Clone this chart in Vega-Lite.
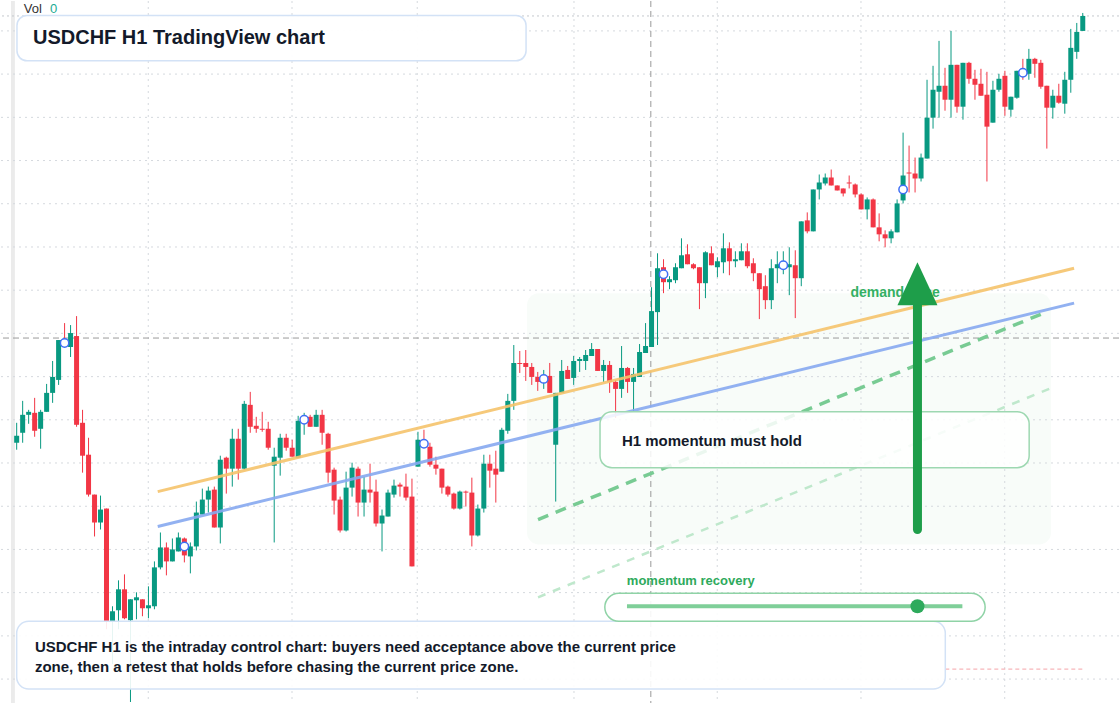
{
"$schema":"https://vega.github.io/schema/vega-lite/v6.json",
"width":1120,"height":704,"padding":0,
"autosize":{"type":"fit","contains":"padding"},
"background":"#ffffff",
"config":{"view":{"stroke":null},"axis":{"disable":true}},
"datasets":{
"candles":[
{"t":0,"o":0.7557,"h":0.7577,"l":0.755,"c":0.7564},
{"t":1,"o":0.7567,"h":0.7599,"l":0.7557,"c":0.7585},
{"t":2,"o":0.7585,"h":0.759,"l":0.7576,"c":0.7588},
{"t":3,"o":0.7587,"h":0.7602,"l":0.7563,"c":0.7569},
{"t":4,"o":0.7571,"h":0.759,"l":0.7551,"c":0.7588},
{"t":5,"o":0.7588,"h":0.7616,"l":0.7588,"c":0.7607},
{"t":6,"o":0.7607,"h":0.7639,"l":0.7597,"c":0.7623},
{"t":7,"o":0.762,"h":0.766,"l":0.7615,"c":0.766},
{"t":8,"o":0.766,"h":0.7677,"l":0.7657,"c":0.7659},
{"t":9,"o":0.7653,"h":0.7675,"l":0.7643,"c":0.7667},
{"t":10,"o":0.7664,"h":0.7684,"l":0.7573,"c":0.7575},
{"t":11,"o":0.7577,"h":0.759,"l":0.7527,"c":0.7544},
{"t":12,"o":0.7545,"h":0.7562,"l":0.7503,"c":0.7505},
{"t":13,"o":0.7505,"h":0.7505,"l":0.7463,"c":0.7477},
{"t":14,"o":0.7477,"h":0.7504,"l":0.747,"c":0.749},
{"t":15,"o":0.7491,"h":0.7491,"l":0.737,"c":0.7378},
{"t":16,"o":0.7378,"h":0.7393,"l":0.7335,"c":0.7388},
{"t":17,"o":0.7389,"h":0.7419,"l":0.737,"c":0.741},
{"t":18,"o":0.741,"h":0.7425,"l":0.738,"c":0.7381},
{"t":19,"o":0.7379,"h":0.74,"l":0.7297,"c":0.74},
{"t":20,"o":0.7399,"h":0.7407,"l":0.738,"c":0.7402},
{"t":21,"o":0.74,"h":0.74,"l":0.7383,"c":0.7391},
{"t":22,"o":0.7391,"h":0.7413,"l":0.7381,"c":0.7394},
{"t":23,"o":0.7393,"h":0.7438,"l":0.739,"c":0.7432},
{"t":24,"o":0.7432,"h":0.7467,"l":0.743,"c":0.7452},
{"t":25,"o":0.7452,"h":0.7457,"l":0.7424,"c":0.7438},
{"t":26,"o":0.7438,"h":0.7461,"l":0.7438,"c":0.745},
{"t":27,"o":0.7448,"h":0.7467,"l":0.7448,"c":0.7462},
{"t":28,"o":0.7461,"h":0.7462,"l":0.7437,"c":0.7444},
{"t":29,"o":0.7443,"h":0.7457,"l":0.7426,"c":0.7453},
{"t":30,"o":0.7453,"h":0.7498,"l":0.7449,"c":0.7487},
{"t":31,"o":0.7485,"h":0.7511,"l":0.7485,"c":0.75},
{"t":32,"o":0.75,"h":0.7513,"l":0.7487,"c":0.7509},
{"t":33,"o":0.751,"h":0.7513,"l":0.7472,"c":0.7472},
{"t":34,"o":0.7472,"h":0.7544,"l":0.7456,"c":0.754},
{"t":35,"o":0.7542,"h":0.7543,"l":0.7506,"c":0.7531},
{"t":36,"o":0.7531,"h":0.7571,"l":0.7513,"c":0.7561},
{"t":37,"o":0.7561,"h":0.7571,"l":0.752,"c":0.7531},
{"t":38,"o":0.7531,"h":0.7599,"l":0.753,"c":0.7596},
{"t":39,"o":0.7595,"h":0.7608,"l":0.7567,"c":0.7573},
{"t":40,"o":0.7574,"h":0.7583,"l":0.7567,"c":0.7571},
{"t":41,"o":0.7571,"h":0.7588,"l":0.7568,"c":0.757},
{"t":42,"o":0.7571,"h":0.7578,"l":0.755,"c":0.7552},
{"t":43,"o":0.7534,"h":0.7552,"l":0.7457,"c":0.7543},
{"t":44,"o":0.7542,"h":0.7566,"l":0.7524,"c":0.7562},
{"t":45,"o":0.7562,"h":0.7566,"l":0.7549,"c":0.7552},
{"t":46,"o":0.7552,"h":0.756,"l":0.7543,"c":0.7543},
{"t":47,"o":0.7542,"h":0.7584,"l":0.7542,"c":0.7579},
{"t":48,"o":0.7579,"h":0.7587,"l":0.7565,"c":0.758},
{"t":49,"o":0.7583,"h":0.7585,"l":0.7573,"c":0.7573},
{"t":50,"o":0.7573,"h":0.759,"l":0.7573,"c":0.7585},
{"t":51,"o":0.7585,"h":0.759,"l":0.7555,"c":0.7567},
{"t":52,"o":0.7566,"h":0.7567,"l":0.7517,"c":0.7527},
{"t":53,"o":0.753,"h":0.7532,"l":0.7485,"c":0.7499},
{"t":54,"o":0.75,"h":0.7503,"l":0.7467,"c":0.7469},
{"t":55,"o":0.7469,"h":0.7528,"l":0.7468,"c":0.7512},
{"t":56,"o":0.7512,"h":0.7537,"l":0.7503,"c":0.7532},
{"t":57,"o":0.7531,"h":0.7533,"l":0.7483,"c":0.7497},
{"t":58,"o":0.7497,"h":0.7523,"l":0.7483,"c":0.751},
{"t":59,"o":0.751,"h":0.7536,"l":0.7497,"c":0.7507},
{"t":60,"o":0.7508,"h":0.752,"l":0.7473,"c":0.7476},
{"t":61,"o":0.7476,"h":0.749,"l":0.7448,"c":0.7484},
{"t":62,"o":0.7483,"h":0.751,"l":0.7483,"c":0.7507},
{"t":63,"o":0.7505,"h":0.752,"l":0.7502,"c":0.7514},
{"t":64,"o":0.7515,"h":0.7517,"l":0.7503,"c":0.7513},
{"t":65,"o":0.7513,"h":0.7526,"l":0.7499,"c":0.7502},
{"t":66,"o":0.7503,"h":0.7521,"l":0.7433,"c":0.7433},
{"t":67,"o":0.7533,"h":0.7568,"l":0.7533,"c":0.756},
{"t":68,"o":0.7556,"h":0.757,"l":0.7552,"c":0.7553},
{"t":69,"o":0.7553,"h":0.7557,"l":0.7533,"c":0.7535},
{"t":70,"o":0.7535,"h":0.7543,"l":0.7525,"c":0.7531},
{"t":71,"o":0.7531,"h":0.7531,"l":0.7506,"c":0.7512},
{"t":72,"o":0.7513,"h":0.7514,"l":0.7503,"c":0.7505},
{"t":73,"o":0.7506,"h":0.7507,"l":0.749,"c":0.7491},
{"t":74,"o":0.7491,"h":0.7509,"l":0.749,"c":0.7508},
{"t":75,"o":0.7508,"h":0.7509,"l":0.7493,"c":0.7507},
{"t":76,"o":0.7507,"h":0.7522,"l":0.7453,"c":0.7464},
{"t":77,"o":0.7464,"h":0.7495,"l":0.7463,"c":0.7491},
{"t":78,"o":0.7491,"h":0.7545,"l":0.7487,"c":0.7536},
{"t":79,"o":0.7536,"h":0.7545,"l":0.7512,"c":0.7529},
{"t":80,"o":0.7531,"h":0.7549,"l":0.7497,"c":0.7525},
{"t":81,"o":0.7528,"h":0.7572,"l":0.7528,"c":0.757},
{"t":82,"o":0.7569,"h":0.7606,"l":0.7566,"c":0.7599},
{"t":83,"o":0.7599,"h":0.7655,"l":0.759,"c":0.7637},
{"t":84,"o":0.7637,"h":0.7649,"l":0.7627,"c":0.7636},
{"t":85,"o":0.7637,"h":0.765,"l":0.7619,"c":0.7633},
{"t":86,"o":0.7633,"h":0.7637,"l":0.7615,"c":0.7623},
{"t":87,"o":0.7623,"h":0.7628,"l":0.7609,"c":0.7618},
{"t":88,"o":0.762,"h":0.763,"l":0.7611,"c":0.7622},
{"t":89,"o":0.7624,"h":0.7637,"l":0.7607,"c":0.7607},
{"t":90,"o":0.7555,"h":0.7607,"l":0.7498,"c":0.7607},
{"t":91,"o":0.7607,"h":0.764,"l":0.7607,"c":0.7629},
{"t":92,"o":0.763,"h":0.7634,"l":0.7621,"c":0.7621},
{"t":93,"o":0.7622,"h":0.7644,"l":0.7615,"c":0.7639},
{"t":94,"o":0.7639,"h":0.7643,"l":0.7628,"c":0.7641},
{"t":95,"o":0.7639,"h":0.765,"l":0.763,"c":0.7645},
{"t":96,"o":0.7644,"h":0.7657,"l":0.7644,"c":0.7651},
{"t":97,"o":0.7651,"h":0.7651,"l":0.7629,"c":0.7629},
{"t":98,"o":0.7629,"h":0.764,"l":0.7618,"c":0.7635},
{"t":99,"o":0.7635,"h":0.7639,"l":0.7607,"c":0.7618},
{"t":100,"o":0.7618,"h":0.762,"l":0.7582,"c":0.7611},
{"t":101,"o":0.7611,"h":0.7654,"l":0.7602,"c":0.7632},
{"t":102,"o":0.7632,"h":0.7633,"l":0.7607,"c":0.7618},
{"t":103,"o":0.7618,"h":0.7632,"l":0.7588,"c":0.7626},
{"t":104,"o":0.7623,"h":0.7656,"l":0.7623,"c":0.7648},
{"t":105,"o":0.7647,"h":0.7677,"l":0.7647,"c":0.7654},
{"t":106,"o":0.7653,"h":0.7713,"l":0.7653,"c":0.7689},
{"t":107,"o":0.7688,"h":0.7747,"l":0.7655,"c":0.7732},
{"t":108,"o":0.7733,"h":0.7741,"l":0.7707,"c":0.7718},
{"t":109,"o":0.7718,"h":0.7724,"l":0.7711,"c":0.7721},
{"t":110,"o":0.772,"h":0.7737,"l":0.7717,"c":0.7733},
{"t":111,"o":0.7732,"h":0.7762,"l":0.7732,"c":0.7745},
{"t":112,"o":0.7746,"h":0.7756,"l":0.7736,"c":0.7736},
{"t":113,"o":0.7736,"h":0.7737,"l":0.7731,"c":0.7732},
{"t":114,"o":0.7733,"h":0.7733,"l":0.7691,"c":0.7717},
{"t":115,"o":0.7717,"h":0.7749,"l":0.7702,"c":0.7748},
{"t":116,"o":0.7747,"h":0.7754,"l":0.7735,"c":0.7735},
{"t":117,"o":0.7733,"h":0.7743,"l":0.7723,"c":0.7739},
{"t":118,"o":0.7738,"h":0.7767,"l":0.7727,"c":0.7752},
{"t":119,"o":0.7752,"h":0.7758,"l":0.7725,"c":0.7739},
{"t":120,"o":0.7739,"h":0.7749,"l":0.7733,"c":0.7741},
{"t":121,"o":0.774,"h":0.7757,"l":0.774,"c":0.7749},
{"t":122,"o":0.7749,"h":0.7757,"l":0.7732,"c":0.7734},
{"t":123,"o":0.7737,"h":0.7742,"l":0.7719,"c":0.7727},
{"t":124,"o":0.7727,"h":0.7727,"l":0.7681,"c":0.7711},
{"t":125,"o":0.7714,"h":0.7725,"l":0.7691,"c":0.77},
{"t":126,"o":0.77,"h":0.7741,"l":0.7691,"c":0.7732},
{"t":127,"o":0.7732,"h":0.7749,"l":0.7717,"c":0.7736},
{"t":128,"o":0.7734,"h":0.7749,"l":0.7726,"c":0.7735},
{"t":129,"o":0.7733,"h":0.7753,"l":0.7705,"c":0.7736},
{"t":130,"o":0.7735,"h":0.775,"l":0.7682,"c":0.7722},
{"t":131,"o":0.7722,"h":0.7779,"l":0.7714,"c":0.7779},
{"t":132,"o":0.778,"h":0.7788,"l":0.7767,"c":0.7769},
{"t":133,"o":0.7769,"h":0.7811,"l":0.7769,"c":0.7811},
{"t":134,"o":0.7811,"h":0.7826,"l":0.7801,"c":0.7818},
{"t":135,"o":0.7817,"h":0.7827,"l":0.7815,"c":0.7823},
{"t":136,"o":0.7823,"h":0.7831,"l":0.7815,"c":0.7815},
{"t":137,"o":0.7815,"h":0.7815,"l":0.781,"c":0.781},
{"t":138,"o":0.7812,"h":0.7812,"l":0.7804,"c":0.7807},
{"t":139,"o":0.7818,"h":0.7825,"l":0.7812,"c":0.7817},
{"t":140,"o":0.7816,"h":0.7817,"l":0.7803,"c":0.7806},
{"t":141,"o":0.7806,"h":0.7807,"l":0.7791,"c":0.7791},
{"t":142,"o":0.7791,"h":0.7803,"l":0.7781,"c":0.7801},
{"t":143,"o":0.7801,"h":0.7802,"l":0.7773,"c":0.7773},
{"t":144,"o":0.7773,"h":0.7787,"l":0.7759,"c":0.7766},
{"t":145,"o":0.7766,"h":0.777,"l":0.7753,"c":0.7762},
{"t":146,"o":0.7762,"h":0.7771,"l":0.7757,"c":0.7769},
{"t":147,"o":0.7768,"h":0.7801,"l":0.7768,"c":0.7797},
{"t":148,"o":0.78,"h":0.7868,"l":0.7797,"c":0.7825},
{"t":149,"o":0.7828,"h":0.7855,"l":0.7808,"c":0.7827},
{"t":150,"o":0.7827,"h":0.7843,"l":0.7808,"c":0.7822},
{"t":151,"o":0.7822,"h":0.7847,"l":0.7819,"c":0.7843},
{"t":152,"o":0.7842,"h":0.7921,"l":0.7842,"c":0.7883},
{"t":153,"o":0.7883,"h":0.7935,"l":0.7872,"c":0.7911},
{"t":154,"o":0.7909,"h":0.796,"l":0.7883,"c":0.7915},
{"t":155,"o":0.7915,"h":0.7933,"l":0.789,"c":0.7901},
{"t":156,"o":0.7901,"h":0.797,"l":0.7883,"c":0.7936},
{"t":157,"o":0.7936,"h":0.7936,"l":0.7888,"c":0.7894},
{"t":158,"o":0.7894,"h":0.7938,"l":0.7881,"c":0.7938},
{"t":159,"o":0.7938,"h":0.7939,"l":0.7917,"c":0.7922},
{"t":160,"o":0.7922,"h":0.7931,"l":0.7901,"c":0.7916},
{"t":161,"o":0.7917,"h":0.7932,"l":0.7905,"c":0.7905},
{"t":162,"o":0.7906,"h":0.7929,"l":0.7819,"c":0.7874},
{"t":163,"o":0.7878,"h":0.792,"l":0.7878,"c":0.7911},
{"t":164,"o":0.7911,"h":0.7927,"l":0.7909,"c":0.7922},
{"t":165,"o":0.7925,"h":0.793,"l":0.7885,"c":0.7894},
{"t":166,"o":0.7891,"h":0.7904,"l":0.7884,"c":0.7904},
{"t":167,"o":0.7903,"h":0.793,"l":0.7902,"c":0.793},
{"t":168,"o":0.7929,"h":0.7942,"l":0.7921,"c":0.7927},
{"t":169,"o":0.7927,"h":0.7952,"l":0.7921,"c":0.7942},
{"t":170,"o":0.7942,"h":0.7943,"l":0.7923,"c":0.7937},
{"t":171,"o":0.7938,"h":0.7941,"l":0.7912,"c":0.7914},
{"t":172,"o":0.7915,"h":0.7915,"l":0.7852,"c":0.7893},
{"t":173,"o":0.7893,"h":0.7911,"l":0.7882,"c":0.7905},
{"t":174,"o":0.7905,"h":0.7917,"l":0.7897,"c":0.7898},
{"t":175,"o":0.7897,"h":0.7929,"l":0.7887,"c":0.7921},
{"t":176,"o":0.7921,"h":0.7972,"l":0.7908,"c":0.7953},
{"t":177,"o":0.7949,"h":0.7978,"l":0.7942,"c":0.7969},
{"t":178,"o":0.797,"h":0.7988,"l":0.797,"c":0.7985}
],
"markers":[{"t":8,"p":0.7657},{"t":28,"p":0.7453},{"t":48,"p":0.758},{"t":68,"p":0.7556},{"t":88,"p":0.7621},{"t":108,"p":0.7726},{"t":128,"p":0.7735},{"t":148,"p":0.7811},{"t":168,"p":0.7928}],
"hgrid":[{"p":0.797},{"p":0.79267},{"p":0.78833},{"p":0.784},{"p":0.77967},{"p":0.77533},{"p":0.771},{"p":0.76667},{"p":0.76233},{"p":0.758},{"p":0.75367},{"p":0.74933},{"p":0.745},{"p":0.74067},{"p":0.73633},{"p":0.732}],
"vgrid":[{"t":21.97},{"t":45.97},{"t":66.88},{"t":93.05},{"t":116.97},{"t":140.97},{"t":164.97}],
"boxes":[
{"kind":"strip","x1":-0.95,"x2":-0.3,"y1":0.8,"y2":0.7296},
{"kind":"zone","x1":85.2,"x2":172.7,"y1":0.7707,"y2":0.7455},
{"kind":"title","x1":0.05,"x2":85.05,"y1":0.79855,"y2":0.794},
{"kind":"note","x1":0.0,"x2":155.05,"y1":0.7378,"y2":0.731},
{"kind":"h1","x1":97.4,"x2":169.05,"y1":0.7588,"y2":0.7532},
{"kind":"mom","x1":98.2,"x2":161.7,"y1":0.7406,"y2":0.7378}
],
"lines":[
{"k":"orange","t":23.55,"p":0.7508},{"k":"orange","t":176.55,"p":0.7732},
{"k":"blue","t":23.55,"p":0.7473},{"k":"blue","t":176.55,"p":0.7697},
{"k":"gdash","t":87.05,"p":0.748},{"k":"gdash","t":171.9,"p":0.7688},
{"k":"ldash","t":87.05,"p":0.7402},{"k":"ldash","t":172.4,"p":0.7611},
{"k":"slider","t":101.9,"p":0.7393},{"k":"slider","t":157.9,"p":0.7393},
{"k":"vol","t":155.05,"p":0.733},{"k":"vol","t":178.4,"p":0.733}
],
"labels":[
{"k":"vol","t":1.2,"p":0.7992,"text":"Vol"},
{"k":"vol0","t":5.55,"p":0.7992,"text":"0"},
{"k":"title","t":2.72,"p":0.7963,"text":"USDCHF H1 TradingView chart"},
{"k":"note","t":3.05,"p":0.7352,"text":"USDCHF H1 is the intraday control chart: buyers need acceptance above the current price"},
{"k":"note","t":3.05,"p":0.7332,"text":"zone, then a retest that holds before chasing the current price zone."},
{"k":"h1","t":101.05,"p":0.7559,"text":"H1 momentum must hold"},
{"k":"green","t":101.88,"p":0.7418,"text":"momentum recovery"},
{"k":"zone","t":139.2,"p":0.7707,"text":"demand zone"}
]
},
"encoding":{
"x":{"type":"quantitative","scale":{"domain":[-2.617,184.05],"nice":false,"zero":false}},
"y":{"type":"quantitative","scale":{"domain":[0.7296,0.8],"nice":false,"zero":false}}
},
"layer":[
{"data":{"name":"boxes"},"transform":[{"filter":"datum.kind==='strip'"}],"mark":{"type":"rect","fill":"#ebebeb"},
 "encoding":{"x":{"field":"x1","type":"quantitative"},"x2":{"field":"x2"},"y":{"field":"y1","type":"quantitative"},"y2":{"field":"y2"}}},
{"data":{"name":"boxes"},"transform":[{"filter":"datum.kind==='zone'"}],"mark":{"type":"rect","fill":"#2eaa5c","fillOpacity":0.035,"cornerRadius":12},
 "encoding":{"x":{"field":"x1","type":"quantitative"},"x2":{"field":"x2"},"y":{"field":"y1","type":"quantitative"},"y2":{"field":"y2"}}},
{"data":{"name":"hgrid"},"mark":{"type":"rule","stroke":"#d5d9de","strokeWidth":1,"strokeDash":[2,4]},
 "encoding":{"y":{"field":"p","type":"quantitative"}}},
{"data":{"name":"vgrid"},"mark":{"type":"rule","stroke":"#d5d9de","strokeWidth":1,"strokeDash":[2,4]},
 "encoding":{"x":{"field":"t","type":"quantitative"}}},
{"data":{"values":[{"p":0.7985}]},"mark":{"type":"rule","stroke":"#c4c8cd","strokeWidth":1,"strokeDash":[2,3]},
 "encoding":{"y":{"field":"p","type":"quantitative"}}},
{"data":{"values":[{"p":0.7662}]},"mark":{"type":"rule","stroke":"#9a9a9a","strokeWidth":1,"strokeDash":[6,4]},
 "encoding":{"y":{"field":"p","type":"quantitative"}}},
{"data":{"values":[{"t":105.88}]},"mark":{"type":"rule","stroke":"#9a9a9a","strokeWidth":1,"strokeDash":[6,4]},
 "encoding":{"x":{"field":"t","type":"quantitative"}}},
{"data":{"name":"lines"},"transform":[{"filter":"datum.k==='ldash'"}],"mark":{"type":"line","stroke":"#bfe8cc","strokeWidth":2.5,"strokeDash":[8,8]},
 "encoding":{"x":{"field":"t","type":"quantitative"},"y":{"field":"p","type":"quantitative"}}},
{"data":{"name":"lines"},"transform":[{"filter":"datum.k==='gdash'"}],"mark":{"type":"line","stroke":"#78cb93","strokeWidth":3.5,"strokeDash":[11,8]},
 "encoding":{"x":{"field":"t","type":"quantitative"},"y":{"field":"p","type":"quantitative"}}},
{"data":{"name":"candles"},"mark":{"type":"rule","strokeWidth":1},
 "encoding":{"x":{"field":"t","type":"quantitative"},"y":{"field":"l","type":"quantitative"},"y2":{"field":"h"},
  "color":{"condition":{"test":"datum.c >= datum.o","value":"#089981"},"value":"#f23645"}}},
{"data":{"name":"candles"},"mark":{"type":"rule","strokeWidth":5,"strokeCap":"butt"},
 "encoding":{"x":{"field":"t","type":"quantitative"},"y":{"field":"o","type":"quantitative"},"y2":{"field":"c"},
  "color":{"condition":{"test":"datum.c >= datum.o","value":"#089981"},"value":"#f23645"}}},
{"data":{"name":"markers"},"mark":{"type":"point","shape":"circle","filled":false,"fill":"#ffffff","fillOpacity":1,"stroke":"#3f6ff5","strokeWidth":1.5,"size":70,"opacity":1},
 "encoding":{"x":{"field":"t","type":"quantitative"},"y":{"field":"p","type":"quantitative"}}},
{"data":{"name":"lines"},"transform":[{"filter":"datum.k==='orange'"}],"mark":{"type":"line","stroke":"#f5c36c","strokeWidth":3,"opacity":0.9},
 "encoding":{"x":{"field":"t","type":"quantitative"},"y":{"field":"p","type":"quantitative"}}},
{"data":{"name":"lines"},"transform":[{"filter":"datum.k==='blue'"}],"mark":{"type":"line","stroke":"#86a9f0","strokeWidth":3,"opacity":0.9},
 "encoding":{"x":{"field":"t","type":"quantitative"},"y":{"field":"p","type":"quantitative"}}},
{"data":{"name":"lines"},"transform":[{"filter":"datum.k==='vol'"}],"mark":{"type":"line","stroke":"#f5a3a8","strokeWidth":1,"strokeDash":[4,3]},
 "encoding":{"x":{"field":"t","type":"quantitative"},"y":{"field":"p","type":"quantitative"}}},
{"data":{"name":"boxes"},"transform":[{"filter":"datum.kind==='title'"}],"mark":{"type":"rect","fill":"#ffffff","fillOpacity":0.95,"stroke":"#d3e2f6","strokeWidth":1.5,"cornerRadius":10},
 "encoding":{"x":{"field":"x1","type":"quantitative"},"x2":{"field":"x2"},"y":{"field":"y1","type":"quantitative"},"y2":{"field":"y2"}}},
{"data":{"name":"boxes"},"transform":[{"filter":"datum.kind==='note'"}],"mark":{"type":"rect","fill":"#ffffff","fillOpacity":0.9,"stroke":"#d3e2f6","strokeWidth":1.5,"cornerRadius":12},
 "encoding":{"x":{"field":"x1","type":"quantitative"},"x2":{"field":"x2"},"y":{"field":"y1","type":"quantitative"},"y2":{"field":"y2"}}},
{"data":{"name":"boxes"},"transform":[{"filter":"datum.kind==='h1'"}],"mark":{"type":"rect","fill":"#ffffff","fillOpacity":0.85,"stroke":"#9dd8b1","strokeWidth":1.5,"cornerRadius":12},
 "encoding":{"x":{"field":"x1","type":"quantitative"},"x2":{"field":"x2"},"y":{"field":"y1","type":"quantitative"},"y2":{"field":"y2"}}},
{"data":{"name":"boxes"},"transform":[{"filter":"datum.kind==='mom'"}],"mark":{"type":"rect","fill":"#ffffff","fillOpacity":0.9,"stroke":"#8fd3a6","strokeWidth":1.5,"cornerRadius":14},
 "encoding":{"x":{"field":"x1","type":"quantitative"},"x2":{"field":"x2"},"y":{"field":"y1","type":"quantitative"},"y2":{"field":"y2"}}},
{"data":{"name":"lines"},"transform":[{"filter":"datum.k==='slider'"}],"mark":{"type":"line","stroke":"#7fcf99","strokeWidth":4},
 "encoding":{"x":{"field":"t","type":"quantitative"},"y":{"field":"p","type":"quantitative"}}},
{"data":{"values":[{"t":150.4,"p":0.7393}]},"mark":{"type":"point","shape":"circle","filled":true,"color":"#2eaa5c","size":196,"opacity":1},
 "encoding":{"x":{"field":"t","type":"quantitative"},"y":{"field":"p","type":"quantitative"}}},
{"data":{"name":"labels"},"transform":[{"filter":"datum.k==='vol'"}],"mark":{"type":"text","align":"left","baseline":"middle","font":"Liberation Sans","fontSize":13,"color":"#333333"},
 "encoding":{"x":{"field":"t","type":"quantitative"},"y":{"field":"p","type":"quantitative"},"text":{"field":"text"}}},
{"data":{"name":"labels"},"transform":[{"filter":"datum.k==='vol0'"}],"mark":{"type":"text","align":"left","baseline":"middle","font":"Liberation Sans","fontSize":13,"color":"#22ab94"},
 "encoding":{"x":{"field":"t","type":"quantitative"},"y":{"field":"p","type":"quantitative"},"text":{"field":"text"}}},
{"data":{"name":"labels"},"transform":[{"filter":"datum.k==='title'"}],"mark":{"type":"text","align":"left","baseline":"middle","font":"Liberation Sans","fontSize":20,"fontWeight":"bold","color":"#131a2a"},
 "encoding":{"x":{"field":"t","type":"quantitative"},"y":{"field":"p","type":"quantitative"},"text":{"field":"text"}}},
{"data":{"name":"labels"},"transform":[{"filter":"datum.k==='note' || datum.k==='h1'"}],"mark":{"type":"text","align":"left","baseline":"middle","font":"Liberation Sans","fontSize":15,"fontWeight":"bold","color":"#131a2a"},
 "encoding":{"x":{"field":"t","type":"quantitative"},"y":{"field":"p","type":"quantitative"},"text":{"field":"text"}}},
{"data":{"name":"labels"},"transform":[{"filter":"datum.k==='green'"}],"mark":{"type":"text","align":"left","baseline":"middle","font":"Liberation Sans","fontSize":13,"fontWeight":"bold","color":"#2eaa5c"},
 "encoding":{"x":{"field":"t","type":"quantitative"},"y":{"field":"p","type":"quantitative"},"text":{"field":"text"}}},
{"data":{"name":"labels"},"transform":[{"filter":"datum.k==='zone'"}],"mark":{"type":"text","align":"left","baseline":"middle","font":"Liberation Sans","fontSize":14,"fontWeight":"bold","color":"#34b063"},
 "encoding":{"x":{"field":"t","type":"quantitative"},"y":{"field":"p","type":"quantitative"},"text":{"field":"text"}}},
{"data":{"values":[{"t":150.4,"p1":0.747,"p2":0.7698}]},"mark":{"type":"rule","stroke":"#1e9e4a","strokeWidth":9,"strokeCap":"round"},
 "encoding":{"x":{"field":"t","type":"quantitative"},"y":{"field":"p1","type":"quantitative"},"y2":{"field":"p2"}}},
{"data":{"values":[{"t":150.4,"p":0.77165}]},"mark":{"type":"point","shape":"M-1,1.075L0,-1.075L1,1.075Z","filled":true,"color":"#1e9e4a","size":1600,"opacity":1,"strokeWidth":0},
 "encoding":{"x":{"field":"t","type":"quantitative"},"y":{"field":"p","type":"quantitative"}}}
]
}
